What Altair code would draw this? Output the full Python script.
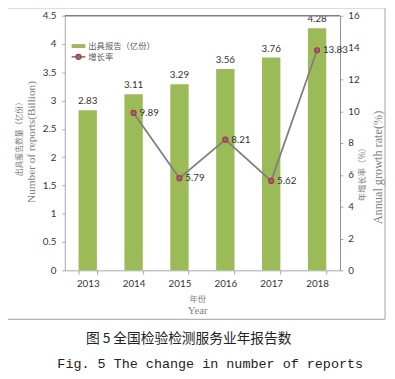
import altair as alt
import pandas as pd

years = ["2013", "2014", "2015", "2016", "2017", "2018"]
reports = [2.83, 3.11, 3.29, 3.56, 3.76, 4.28]
growth = [None, 9.89, 5.79, 8.21, 5.62, 13.83]

left_ticks = [0, 0.5, 1, 1.5, 2, 2.5, 3, 3.5, 4, 4.5]
right_ticks = [0, 2, 4, 6, 8, 10, 12, 14, 16]

df = pd.DataFrame({"year": years, "reports": reports, "growth": growth})
one = pd.DataFrame({"a": [0]})

W, H = 281, 260
GREEN = "#9bbb59"
LINE = "#7f7f7f"
AX = "#a6a6a6"
LBL = "#333333"
TITLE = "#7f7f7f"
NUM = "Lato"
CJK = "Noto Sans CJK SC"
SERIF = "Liberation Serif"

x_axis = alt.Axis(title=None, labelAngle=0, tickBand="extent",
                  domainColor=AX, tickColor=AX, tickSize=4,
                  labelFont=NUM, labelFontSize=10, labelColor=LBL,
                  labelPadding=5)
x_scale = alt.Scale(paddingInner=0.6, paddingOuter=0.3)


def X():
    return alt.X("year:N", sort=years, scale=x_scale, axis=x_axis)


left_axis = alt.Axis(title=None, values=left_ticks, orient="left", grid=False,
                     domainColor=AX, tickColor=AX, tickSize=3, labelOverlap=False,
                     labelFont=NUM, labelFontSize=10, labelColor=LBL,
                     labelPadding=6, format="~g")
left_scale = alt.Scale(domain=[0, 4.5], nice=False)
right_axis = alt.Axis(title=None, values=right_ticks, orient="right", grid=False,
                      domainColor="#8c8c8c", tickColor=AX, tickSize=3, labelOverlap=False,
                      labelFont=NUM, labelFontSize=10, labelColor=LBL,
                      labelPadding=5, format="~g")
right_scale = alt.Scale(domain=[0, 16], nice=False)


def YL():
    return alt.Y("reports:Q", scale=left_scale, axis=left_axis)


def YR():
    return alt.Y("growth:Q", scale=right_scale, axis=right_axis)


base = alt.Chart(df)

bars = base.mark_bar(color=GREEN).encode(x=X(), y=YL())
bar_text = base.mark_text(baseline="bottom", dy=-4, font=NUM, fontSize=10, color=LBL).encode(
    x=X(), y=YL(), text=alt.Text("reports:Q", format=".2f"))
left = alt.layer(bars, bar_text)

gbase = base.transform_filter("datum.growth != null")
line = gbase.mark_line(color=LINE, strokeWidth=1.8).encode(x=X(), y=YR())
pts = gbase.mark_point(shape="circle", filled=True, fill="#4f81bd", stroke="#e0201b",
                       strokeWidth=1.2, size=26, opacity=1).encode(x=X(), y=YR())
pt_text = gbase.mark_text(align="left", baseline="middle", dx=6, font=NUM, fontSize=10,
                          color=LBL).encode(
    x=X(), y=YR(), text=alt.Text("growth:Q", format=".2f"))
right = alt.layer(line, pts, pt_text)

d = alt.Chart(one)
outer = d.mark_rect(fillOpacity=0, stroke="#a0a0a0", strokeWidth=1, clip=False).encode(
    x=alt.value(-62), x2=alt.value(327), y=alt.value(-8), y2=alt.value(310))
topline = d.mark_rule(color="#7f7f7f", strokeWidth=1.5).encode(
    x=alt.value(0), x2=alt.value(W), y=alt.value(0))


def txt(s, x, y, font, size, color, angle=0, align="center"):
    kw = dict(text=s, font=font, fontSize=size, color=color, align=align, baseline="middle")
    if angle:
        kw["angle"] = angle
    return d.mark_text(**kw).encode(x=alt.value(x), y=alt.value(y))


leg_rect = d.mark_rect(color=GREEN).encode(
    x=alt.value(7), x2=alt.value(21), y=alt.value(29), y2=alt.value(33))
leg_rule = d.mark_rule(color=LINE, strokeWidth=1.8).encode(
    x=alt.value(7), x2=alt.value(21), y=alt.value(42))
leg_pt = d.mark_point(shape="circle", filled=True, fill="#4f81bd", stroke="#e0201b",
                      strokeWidth=1.2, size=26, opacity=1).encode(
    x=alt.value(14), y=alt.value(42))

decor = [
    outer, topline, leg_rect, leg_rule, leg_pt,
    txt("出具报告（亿份）", 24, 31, CJK, 8.5, "#595959", align="left"),
    txt("增长率", 24, 42, CJK, 8.5, "#595959", align="left"),
    txt("出具报告数量（亿份）", -46, 124, CJK, 8, TITLE, angle=270),
    txt("Number of reports(Billion)", -33, 129, SERIF, 11.5, TITLE, angle=270),
    txt("年增长率（%）", 304, 160, CJK, 8.5, TITLE, angle=270),
    txt("Annual growth rate(%)", 319.5, 155, SERIF, 12.5, TITLE, angle=270),
    txt("年份", 135.7, 289.7, CJK, 8.5, TITLE),
    txt("Year", 135.7, 302, SERIF, 11, TITLE),
    txt("图 5 全国检验检测服务业年报告数", 126.5, 329.7, CJK, 14, "#222222"),
    txt("Fig. 5 The change in number of reports", 148.5, 356, "Liberation Mono", 13.7, "#222222"),
]

chart = alt.layer(left, right, *decor).resolve_scale(y="independent").properties(
    width=W, height=H,
    autosize=alt.AutoSizeParams(type="none"),
    padding={"left": 58, "top": 4, "right": 48, "bottom": 103},
).configure_view(stroke=None)

chart.save("out.html", embed_options={"renderer": "svg", "actions": False})
